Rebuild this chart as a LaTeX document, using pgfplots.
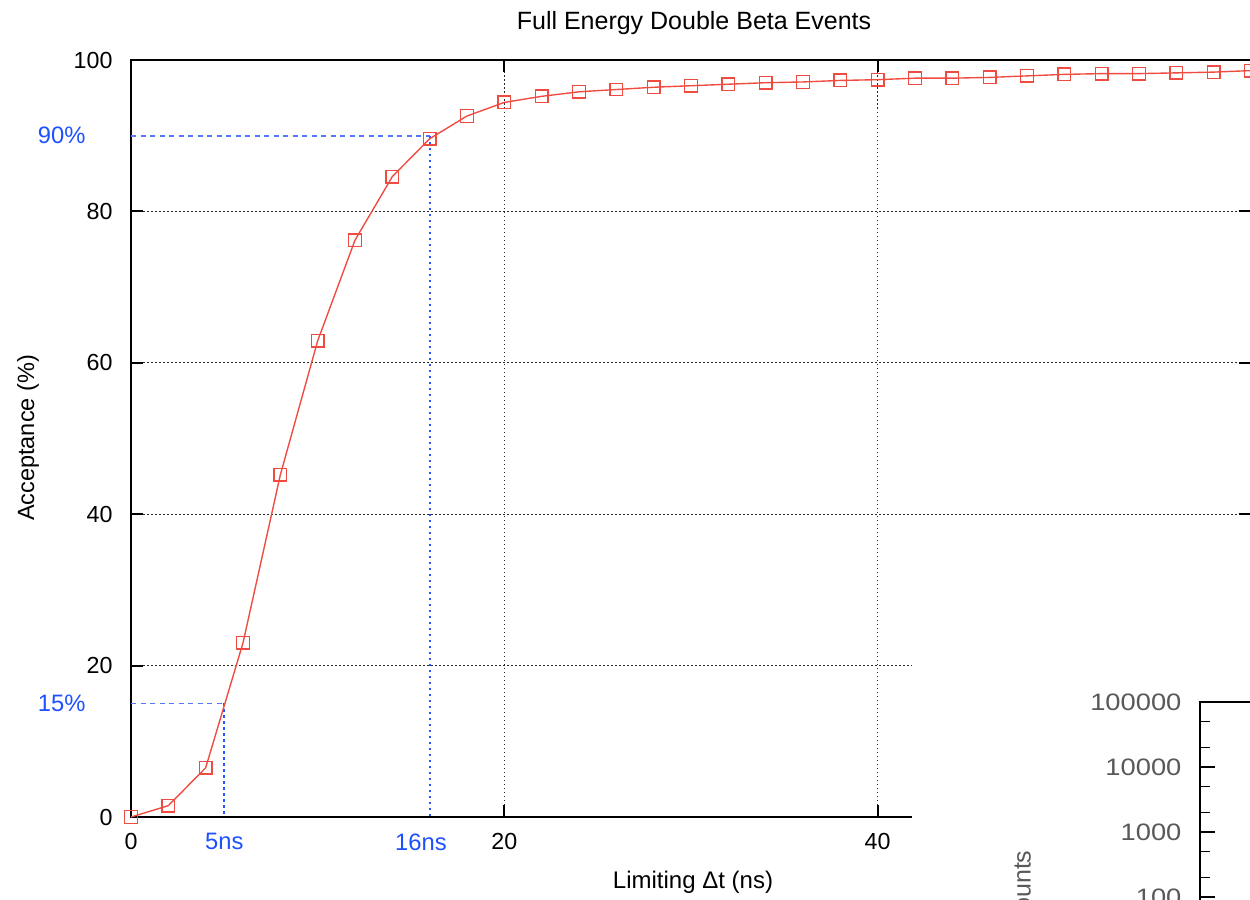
\documentclass[border=0pt]{standalone}
\usepackage{fontspec}
\setmainfont{Liberation Sans}
\usepackage{pgfplots}
\pgfplotsset{compat=1.18}
\definecolor{redline}{RGB}{240,75,65}
\definecolor{bluelab}{RGB}{30,80,255}
\definecolor{blueline}{RGB}{40,85,255}
\begin{document}
\begin{tikzpicture}
\useasboundingbox (0,0) rectangle (500pt,359.6pt);
\clip (0,0) rectangle (500pt,359.6pt);
\begin{axis}[
  at={(52.4pt,32.8pt)}, anchor=south west, scale only axis,
  width=448pt, height=302.8pt,
  xmin=0, xmax=60, ymin=0, ymax=100,
  xtick={0,20,40}, ytick={0,20,40,60,80,100},
  tick align=inside, major tick length=4.8pt,
  grid=major,
  major grid style={black!85, line width=0.45pt, dash pattern=on 0.6pt off 1pt},
  axis line style={black, line width=0.8pt},
  tick style={black, line width=0.8pt},
  /pgf/number format/assume math mode=true,
  ticklabel style={font=\fontsize{9.3}{10}\selectfont, inner sep=0pt},
  xticklabel shift=6.4pt, yticklabel shift=7.2pt,
  clip mode=individual,
]
\addplot[color=blueline!80, line width=0.7pt, dash pattern=on 2pt off 1.8pt] coordinates {(0,90) (16,90)};
\addplot[color=blueline, line width=0.75pt, dash pattern=on 0.9pt off 1.5pt] coordinates {(16,90) (16,0)};
\addplot[color=blueline!80, line width=0.7pt, dash pattern=on 2pt off 1.8pt] coordinates {(0,15) (5,15)};
\addplot[color=blueline, line width=0.75pt, dash pattern=on 0.9pt off 1.5pt] coordinates {(5,15) (5,0)};
\addplot[color=redline, line width=0.55pt, mark=square, mark size=2.5pt, mark options={solid, line width=0.55pt}] coordinates {
(0,0) (2,1.5) (4,6.5) (6,23.0) (8,45.2) (10,62.9) (12,76.2) (14,84.6) (16,89.6) (18,92.6)
(20,94.4) (22,95.2) (24,95.8) (26,96.1) (28,96.4) (30,96.6) (32,96.8) (34,97.0) (36,97.1) (38,97.3)
(40,97.4) (42,97.6) (44,97.6) (46,97.7) (48,97.9) (50,98.1) (52,98.2) (54,98.2) (56,98.3) (58,98.4) (60,98.6)
};
\node[anchor=north, text=bluelab, inner sep=0pt, font=\fontsize{9.5}{10}\selectfont, yshift=-6.4pt] at (axis cs:5,0) {5ns};
\node[anchor=north, text=bluelab, inner sep=0pt, font=\fontsize{9.5}{10}\selectfont, yshift=-6.4pt] at (axis cs:15.53,0) {16ns};
\node[anchor=east, text=bluelab, inner sep=0pt, font=\fontsize{9.5}{10}\selectfont, xshift=-18pt] at (axis cs:0,90) {90\%};
\node[anchor=east, text=bluelab, inner sep=0pt, font=\fontsize{9.5}{10}\selectfont, xshift=-18pt] at (axis cs:0,15) {15\%};
\end{axis}
% title and axis labels
\node[anchor=base, inner sep=0pt, font=\fontsize{10}{12}\selectfont] at (277.6pt,347.6pt) {Full Energy Double Beta Events};
\node[anchor=base, inner sep=0pt, font=\fontsize{9.6}{12}\selectfont] at (277.2pt,4.4pt) {Limiting Δt (ns)};
\node[rotate=90, inner sep=0pt, font=\fontsize{9.4}{12}\selectfont] at (11.2pt,184.4pt) {Acceptance (\%)};
% inset panel
\fill[white] (364.8pt,0pt) rectangle (500pt,95.6pt);
\begin{axis}[
  at={(480pt,78.8pt)}, anchor=north west, scale only axis,
  width=100pt, height=130pt,
  ymode=log, ymin=1, ymax=100000, xmin=0, xmax=1,
  xtick=\empty,
  ytick={10,100,1000,10000,100000},
  yticklabels={10,100,1000,10000,100000},
  minor ytick={20,50,200,500,2000,5000,20000,50000},
  tick align=inside, major tick length=6pt, minor tick length=4pt,
  axis line style={black, line width=0.8pt},
  tick style={black, line width=0.6pt},
  yticklabel style={font=\fontsize{9.5}{10}\selectfont, text=black!65, inner sep=0pt, xscale=1.15},
  yticklabel shift=7.2pt,
]
\end{axis}
\node[rotate=90, anchor=east, inner sep=0pt, text=black!65, font=\fontsize{10}{12}\selectfont] at (408.8pt,19.6pt) {Counts};
\end{tikzpicture}
\end{document}
